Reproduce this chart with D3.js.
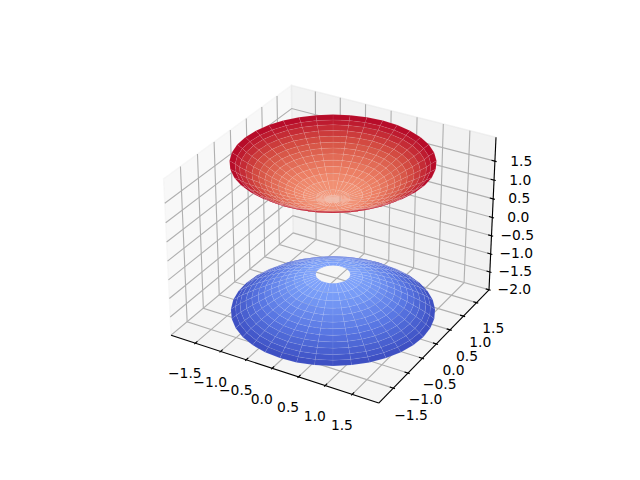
<!DOCTYPE html>
<html>
<head>
<meta charset="utf-8">
<script src="https://cdnjs.cloudflare.com/ajax/libs/d3/7.8.5/d3.min.js"></script>
<style>
html,body{margin:0;padding:0;background:#fff}
svg{display:block}
text{font-family:"DejaVu Sans";font-size:13.89px;fill:#000}
</style>
</head>
<body>
<svg id="chart" width="640" height="480"></svg>
<script>
// Two-sheet hyperboloid: one ring table for each sheet.
const upperHeights = [1.04,1.05,1.08,1.16,1.24,1.32,1.40,1.48,1.56,1.64,1.72,1.80,1.88,1.96,2.04];
const upperRadii   = [0.00,0.13,0.28,0.49,0.64,0.78,0.90,1.02,1.12,1.22,1.33,1.43,1.53,1.60,1.69];
const lowerHeights = [-0.96,-1.04,-1.12,-1.20,-1.28,-1.36,-1.44,-1.52,-1.60,-1.68,-1.76,-1.84,-1.92];
const lowerRadii   = [0.29,0.50,0.66,0.80,0.92,1.05,1.16,1.27,1.38,1.48,1.58,1.66,1.74];
const spokeAngles = [0,10,20,30,40,50,60,70,80,90,100,110,120,130,140,150,160,170,180,
                     190,200,210,220,230,240,250,260,270,280,290,300,310,320,330,340,350,360];

const xTicks = [-1.5,-1,-0.5,0,0.5,1,1.5];
const yTicks = [-1.5,-1,-0.5,0,0.5,1,1.5];
const zTicks = [-2,-1.5,-1,-0.5,0,0.5,1,1.5];
const xDomain = [-1.905,1.905];
const yDomain = [-1.905,1.905];
const zDomain = [-1.92,2.04];
const coolwarmStops = ["#3b4cc0","#5977e3","#7b9ff9","#9ebeff","#c0d4f5","#dddcdc",
                       "#f2cbb7","#f7ac8e","#ee8468","#d65244","#b40426"];

// Camera and plot box
const elev = 30*Math.PI/180, azim = -60*Math.PI/180, dist = 10;
const boxK = 1.8294640721620434;
const boxNorm = Math.hypot(4,4,3);
const box = [4,4,3].map(v=>v*boxK/boxNorm);
const axLeft = 143.2, axTop = 56.8, axSize = 369.6;

const wx = d3.scaleLinear().domain(xDomain).range([0,box[0]]);
const wy = d3.scaleLinear().domain(yDomain).range([0,box[1]]);
const wz = d3.scaleLinear().domain(zDomain).range([0,box[2]]);
const sx = d3.scaleLinear().domain([-0.095,0.09]).range([axLeft,axLeft+axSize]);
const sy = d3.scaleLinear().domain([-0.095,0.09]).range([axTop+axSize,axTop]);
const colour = d3.scaleLinear()
  .domain(coolwarmStops.map((_,i)=>i/(coolwarmStops.length-1)))
  .range(coolwarmStops);
// Height to colour position, set separately for each sheet
const colourNorm = d3.scaleLinear().domain([-1.92,-0.96,1.04,2.04]).range([0,0.22,0.75,1]);

const dot=(a,b)=>a[0]*b[0]+a[1]*b[1]+a[2]*b[2];
const cross=(a,b)=>[a[1]*b[2]-a[2]*b[1],a[2]*b[0]-a[0]*b[2],a[0]*b[1]-a[1]*b[0]];
const unit=a=>{const n=Math.hypot(...a);return a.map(v=>v/n);};
const centre = box.map(v=>v/2);
const dir = [Math.cos(elev)*Math.cos(azim),Math.cos(elev)*Math.sin(azim),Math.sin(elev)];
const eye = centre.map((c,i)=>c+dist*dir[i]);
const W = unit(dir);
const U = unit(cross([0,0,1],W));
const V = cross(W,U);

function project(p){
  const q=[wx(p[0])-eye[0],wy(p[1])-eye[1],wz(p[2])-eye[2]];
  const d=-dot(q,W);
  return {x:sx(dot(q,U)/d),y:sy(dot(q,V)/d),d};
}

const svg=d3.select("#chart");
svg.append("rect").attr("width",640).attr("height",480).attr("fill","#fff");

const xSpan=xDomain[1]-xDomain[0], ySpan=yDomain[1]-yDomain[0], zSpan=zDomain[1]-zDomain[0];
const dx=xSpan/12, dy=ySpan/12, dz=zSpan/12;
const x0=xDomain[0]-dx/4, x1=xDomain[1]+dx/4;
const y0=yDomain[0]-dy/4, y1=yDomain[1]+dy/4;
const z0=zDomain[0]-dz/4, z1=zDomain[1]+dz/4;
const line=d3.line().x(d=>d.x).y(d=>d.y);
const path=pts=>line(pts.map(project));

// Back walls and floor
const panes=[
  {pts:[[x0,y0,z0],[x0,y1,z0],[x0,y1,z1],[x0,y0,z1]],fill:0.95},
  {pts:[[x0,y1,z0],[x1,y1,z0],[x1,y1,z1],[x0,y1,z1]],fill:0.90},
  {pts:[[x0,y0,z0],[x1,y0,z0],[x1,y1,z0],[x0,y1,z0]],fill:0.925}
];
svg.append("g").selectAll("path").data(panes).join("path")
  .attr("d",d=>path(d.pts)+"Z")
  .attr("fill",d=>d3.rgb(d.fill*255,d.fill*255,d.fill*255))
  .attr("fill-opacity",0.5)
  .attr("stroke",d=>d3.rgb(d.fill*255,d.fill*255,d.fill*255))
  .attr("stroke-opacity",0.5)
  .attr("stroke-width",1.39);

// Grid lines running across the floor and up the walls
const gridLines=[
  ...xTicks.map(t=>[[t,y0,z0],[t,y1,z0],[t,y1,z1]]),
  ...yTicks.map(t=>[[x1,t,z0],[x0,t,z0],[x0,t,z1]]),
  ...zTicks.map(t=>[[x1,y1,t],[x0,y1,t],[x0,y0,t]])
];
svg.append("g").selectAll("path").data(gridLines).join("path")
  .attr("d",path).attr("fill","none")
  .attr("stroke","#b0b0b0").attr("stroke-width",1.11);

// Axis edges
const axisLines=[
  [[x0,y0,z0],[x1,y0,z0]],
  [[x1,y0,z0],[x1,y1,z0]],
  [[x1,y1,z0],[x1,y1,z1]]
];
svg.append("g").selectAll("path").data(axisLines).join("path")
  .attr("d",path).attr("fill","none")
  .attr("stroke","#000").attr("stroke-width",1.11);

// Ticks and their labels; labels hang a little lower than the tick centre
const perPoint=48/(2*72*axSize/100);
const push=(3.5+8)*perPoint;
const floorDrop=8, wallDrop=3;
const ticks=[
  ...xTicks.map(t=>({v:t,drop:floorDrop,a:[t,y0-0.1*dy,z0],b:[t,y0+0.2*dy,z0],l:[t,y0-push*dy,z0-push*dz]})),
  ...yTicks.map(t=>({v:t,drop:floorDrop,a:[x1+0.1*dx,t,z0],b:[x1-0.2*dx,t,z0],l:[x1+push*dx,t,z0-push*dz]})),
  ...zTicks.map(t=>({v:t,drop:wallDrop,a:[x1+0.1*dx,y1,t],b:[x1-0.2*dx,y1,t],l:[x1+push*dx,y1+push*dy,t]}))
];
const tickLabel=d3.format(".1f");
const tickG=svg.append("g");
tickG.selectAll("path").data(ticks).join("path")
  .attr("d",d=>path([d.a,d.b])).attr("fill","none")
  .attr("stroke","#000").attr("stroke-width",1.11);
tickG.selectAll("text").data(ticks).join("text")
  .attr("x",d=>project(d.l).x).attr("y",d=>project(d.l).y+d.drop)
  .attr("dy","0.36em").attr("text-anchor","middle")
  .text(d=>tickLabel(d.v).replace("-","\u2212"));

// Surface cells, painted from the far side to the near side.
// The innermost ring of the upper sheet is the thin pale cap at the bottom of the bowl.
const rad=d=>d*Math.PI/180;
const cells=[];
[[upperHeights,upperRadii,true],[lowerHeights,lowerRadii,false]].forEach(([heights,radii,capped])=>{
  for(let i=0;i<heights.length-1;i++){
    for(let j=0;j<spokeAngles.length-1;j++){
      const corners=[[i,j],[i+1,j],[i+1,j+1],[i,j+1]].map(([a,b])=>[
        radii[a]*Math.cos(rad(spokeAngles[b])),
        radii[a]*Math.sin(rad(spokeAngles[b])),
        heights[a]
      ]);
      const pts=corners.map(project);
      cells.push({
        pts,
        cap:capped&&i===0,
        depth:d3.mean(pts,p=>-1/p.d),
        z:d3.mean(corners,c=>c[2])
      });
    }
  }
});
cells.sort((a,b)=>d3.descending(a.depth,b.depth));
svg.append("g").selectAll("path").data(cells).join("path")
  .attr("d",d=>line(d.pts)+"Z")
  .attr("fill",d=>colour(colourNorm(d.z)))
  .attr("fill-opacity",d=>d.cap?0.75:1)
  .attr("stroke","#fff")
  .attr("stroke-opacity",d=>d.cap?0:0.12)
  .attr("stroke-width",0.5);
</script>
</body>
</html>
